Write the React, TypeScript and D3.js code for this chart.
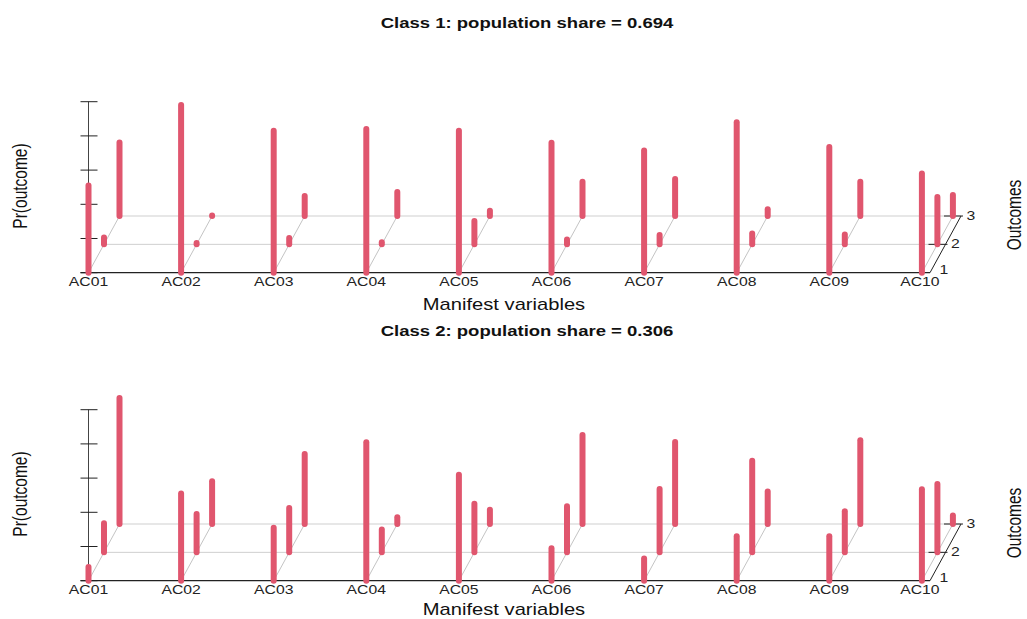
import { useEffect, useRef } from "react";
import * as d3 from "d3";

const categories = ["AC01", "AC02", "AC03", "AC04", "AC05", "AC06", "AC07", "AC08", "AC09", "AC10"];
const outcomes = [1, 2, 3];
const yTicks = [0, 0.2, 0.4, 0.6, 0.8, 1];

const classShares = [0.694, 0.306];

// class 1: probability of each outcome per manifest variable
const class1Outcome1 = [0.51, 0.98, 0.83, 0.84, 0.83, 0.76, 0.715, 0.88, 0.735, 0.58];
const class1Outcome2 = [0.04, 0.008, 0.037, 0.012, 0.136, 0.028, 0.054, 0.063, 0.057, 0.277];
const class1Outcome3 = [0.43, 0.003, 0.117, 0.14, 0.03, 0.2, 0.216, 0.04, 0.2, 0.123];

// class 2
const class2Outcome1 = [0.08, 0.51, 0.31, 0.81, 0.62, 0.19, 0.13, 0.26, 0.26, 0.535];
const class2Outcome2 = [0.17, 0.225, 0.26, 0.133, 0.284, 0.27, 0.37, 0.535, 0.24, 0.4];
const class2Outcome3 = [0.737, 0.25, 0.41, 0.04, 0.084, 0.52, 0.48, 0.19, 0.49, 0.05];

const classes = [
  [class1Outcome1, class1Outcome2, class1Outcome3],
  [class2Outcome1, class2Outcome2, class2Outcome3],
];

const W = 1027;
const H = 619;
const BAR = "#E0566E";
const SX = 1.26; // glyphs in the reference are stretched horizontally

export default function App() {
  const ref = useRef<SVGSVGElement | null>(null);

  useEffect(() => {
    if (!ref.current) return;
    const svg = d3.select(ref.current);
    svg.selectAll("*").remove();

    const font = "Liberation Sans, Arial, sans-serif";

    const x = d3.scalePoint<string>().domain(categories).range([88.5, 921.9]);
    const xEnd = 930;
    // depth offset for outcomes (pseudo-3d)
    const dx = d3.scaleLinear().domain([1, 3]).range([0, 31]);
    const dy = d3.scaleLinear().domain([1, 3]).range([0, -56.7]);

    classes.forEach((probs, ci) => {
      const top = ci * 308;
      const base = 272.7 + top;
      const y = d3.scaleLinear().domain([0, 1]).range([base, base - 171]);
      const g = svg.append("g");

      // ── Titles ──────────────────────────────────────────────────────────
      g.append("text")
        .attr("transform", `translate(527,${28 + top}) scale(${SX * 0.98},1)`)
        .attr("text-anchor", "middle")
        .attr("font-family", font)
        .attr("font-weight", "bold")
        .attr("font-size", 15)
        .attr("fill", "#111")
        .text(`Class ${ci + 1}: population share = ${classShares[ci].toFixed(3)}`);

      g.append("text")
        .attr("transform", `translate(504,${309.5 + top - ci * 2.5}) scale(${SX},1)`)
        .attr("text-anchor", "middle")
        .attr("font-family", font)
        .attr("font-size", 16)
        .attr("fill", "#111")
        .text("Manifest variables");

      g.append("text")
        .attr("transform", `translate(27,${186 + top}) rotate(-90) scale(1,${SX})`)
        .attr("text-anchor", "middle")
        .attr("font-family", font)
        .attr("font-size", 15.5)
        .attr("fill", "#111")
        .text("Pr(outcome)");

      g.append("text")
        .attr("transform", `translate(1021,${215 + top}) rotate(-90) scale(1,${SX})`)
        .attr("text-anchor", "middle")
        .attr("font-family", font)
        .attr("font-size", 15.5)
        .attr("fill", "#111")
        .text("Outcomes");

      // ── Floor grid ──────────────────────────────────────────────────────
      categories.forEach((c) => {
        g.append("line")
          .attr("x1", x(c)!)
          .attr("y1", base)
          .attr("x2", x(c)! + dx(3))
          .attr("y2", base + dy(3))
          .attr("stroke", "#c4c4c4")
          .attr("stroke-width", 1);
      });
      outcomes.slice(1).forEach((o) => {
        g.append("line")
          .attr("x1", x(categories[0])! + dx(o))
          .attr("y1", base + dy(o))
          .attr("x2", xEnd + dx(o))
          .attr("y2", base + dy(o))
          .attr("stroke", "#cfcfcf")
          .attr("stroke-width", 1);
      });

      // ── Axes ────────────────────────────────────────────────────────────
      g.append("line")
        .attr("x1", 88.5)
        .attr("x2", 88.5)
        .attr("y1", y(0))
        .attr("y2", y(1))
        .attr("stroke", "#444")
        .attr("stroke-width", 1);
      yTicks.forEach((t) => {
        g.append("line")
          .attr("x1", 80.5)
          .attr("x2", 97.5)
          .attr("y1", y(t))
          .attr("y2", y(t))
          .attr("stroke", "#222")
          .attr("stroke-width", 1);
      });
      g.append("line")
        .attr("x1", 80.5)
        .attr("x2", xEnd)
        .attr("y1", base)
        .attr("y2", base)
        .attr("stroke", "#222")
        .attr("stroke-width", 1.2);

      // depth axis
      g.append("line")
        .attr("x1", xEnd)
        .attr("y1", base)
        .attr("x2", xEnd + dx(3))
        .attr("y2", base + dy(3))
        .attr("stroke", "#222")
        .attr("stroke-width", 1);
      outcomes.forEach((o) => {
        const ax = xEnd + dx(o);
        const ay = base + dy(o);
        if (o > 1) {
          g.append("line")
            .attr("x1", ax - 17)
            .attr("x2", ax + 2)
            .attr("y1", ay)
            .attr("y2", ay)
            .attr("stroke", "#222")
            .attr("stroke-width", 1);
        }
        g.append("text")
          .attr("transform", `translate(${ax + (o === 1 ? 14 : 10)},${ay + (o === 1 ? 1 : 4)}) scale(${SX},1)`)
          .attr("text-anchor", "middle")
          .attr("font-family", font)
          .attr("font-size", 12.5)
          .attr("fill", "#222")
          .text(String(o));
      });

      categories.forEach((c) => {
        g.append("text")
          .attr("transform", `translate(${x(c)! - (c === "AC10" ? 2 : 0)},${base + 13}) scale(${SX},1)`)
          .attr("text-anchor", "middle")
          .attr("font-family", font)
          .attr("font-size", 12.5)
          .attr("fill", "#222")
          .text(c);
      });

      // ── Bars ────────────────────────────────────────────────────────────
      outcomes.forEach((o, oi) => {
        g.selectAll(null)
          .data(probs[oi])
          .enter()
          .append("line")
          .attr("x1", (_, i) => x(categories[i])! + dx(o))
          .attr("x2", (_, i) => x(categories[i])! + dx(o))
          .attr("y1", base + dy(o))
          .attr("y2", (d) => y(d) + dy(o))
          .attr("stroke", BAR)
          .attr("stroke-width", 6)
          .attr("stroke-linecap", "round");
      });
    });
  }, []);

  return (
    <svg
      ref={ref}
      width={W}
      height={H}
      style={{ position: "absolute", left: 0, top: 0, background: "#fff" }}
    />
  );
}
